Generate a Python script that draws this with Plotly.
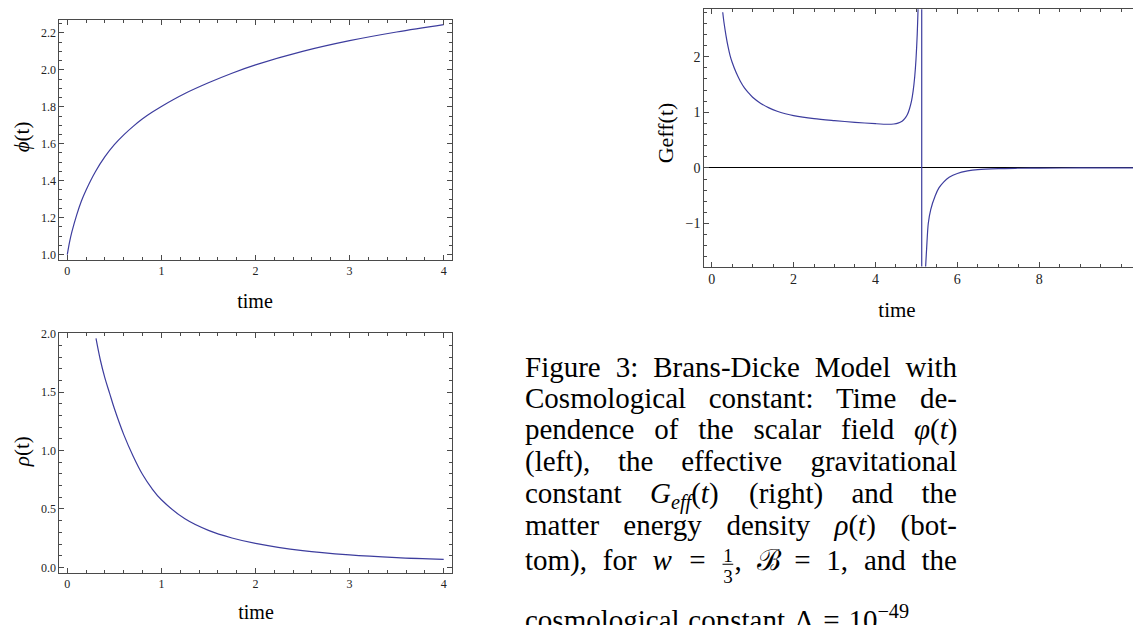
import re
import plotly.graph_objects as go

# ---------------- data ----------------
phi_t = [0.0, 0.025, 0.05, 0.1, 0.15, 0.2, 0.3, 0.4, 0.5, 0.6, 0.7, 0.8, 0.9, 1.0, 1.25, 1.5, 1.75, 2.0, 2.5, 3.0, 3.5, 4.0]
phi_v = [1.0, 1.07, 1.125, 1.215, 1.29, 1.35, 1.45, 1.53, 1.595, 1.648, 1.694, 1.735, 1.770, 1.802, 1.872,
         1.930, 1.982, 2.027, 2.10, 2.158, 2.205, 2.245]

rho_t = [0.305, 0.35, 0.4, 0.45, 0.5, 0.6, 0.7, 0.8, 0.9, 1.0, 1.25, 1.5, 1.75, 2.0, 2.5, 3.0, 3.5, 4.0]
rho_v = [1.96, 1.78, 1.62, 1.49, 1.36, 1.137, 0.952, 0.795, 0.674, 0.579, 0.416, 0.317, 0.252, 0.206,
         0.144, 0.1075, 0.084, 0.068]

geff_t_pos = [0.27, 0.3, 0.35, 0.4, 0.45, 0.5, 0.6, 0.7, 0.8, 0.9, 1.0, 1.2, 1.4, 1.6, 1.8, 2.0, 2.5, 3.0,
              3.5, 4.0, 4.3, 4.45, 4.55, 4.65, 4.72, 4.78, 4.83, 4.88, 4.92, 4.96, 4.99, 5.02, 5.04, 5.06]
geff_v_pos = [2.80, 2.62, 2.38, 2.18, 2.02, 1.90, 1.71, 1.56, 1.44, 1.35, 1.27, 1.16, 1.08, 1.02, 0.975,
              0.94, 0.885, 0.85, 0.82, 0.795, 0.785, 0.79, 0.805, 0.84, 0.89, 0.96, 1.06, 1.2, 1.38,
              1.65, 1.95, 2.4, 2.85, 3.4]
geff_t_pole = [5.13, 5.13]
geff_v_pole = [3.2, -2.0]
geff_t_neg = [5.205, 5.22, 5.25, 5.29, 5.35, 5.46, 5.55, 5.67, 5.8, 6.0, 6.25, 6.5, 7.0, 7.5, 8.0, 9.0, 10.3]
geff_v_neg = [-2.1, -1.85, -1.45, -1.0, -0.75, -0.5, -0.36, -0.25, -0.17, -0.1, -0.055, -0.03, -0.012,
              -0.006, -0.003, -0.001, -0.0004]

phi_xticks = [0, 1, 2, 3, 4]
phi_yticks = [1.0, 1.2, 1.4, 1.6, 1.8, 2.0, 2.2]
rho_xticks = [0, 1, 2, 3, 4]
rho_yticks = [0.0, 0.5, 1.0, 1.5, 2.0]
geff_xticks = [0, 2, 4, 6, 8]
geff_yticks = [-1, 0, 1, 2]

caption_lines = [
    ["Figure", "3:", "Brans-Dicke", "Model", "with"],
    ["Cosmological", "constant:", "Time", "de-"],
    ["pendence", "of", "the", "scalar", "field", "<i>φ</i>(<i>t</i>)"],
    ["(left),", "the", "effective", "gravitational"],
    ["constant", "<i>G<sub>eff</sub></i>(<i>t</i>)", "(right)", "and", "the"],
    ["matter", "energy", "density", "<i>ρ</i>(<i>t</i>)", "(bot-"],
    ["tom),", "for", "<i>w</i>", "=", "{FRAC}", "ℬ", "=", "1,", "and", "the"],
    ["cosmological", "constant", "Λ", "=", "10<sup>−49</sup>."],
]
frac_num, frac_den = "1", "3"

# ---------------- layout helpers ----------------
W, H = 1133, 625
LINE = "#4a4a4a"
CURVE = "#3d3d9e"
SERIF = "Liberation Serif"


def dx(a, b):
    return [a / W, b / W]


def dy(top, bottom):
    return [1 - bottom / H, 1 - top / H]


fig = go.Figure()

fig.add_trace(go.Scatter(x=phi_t, y=phi_v, mode="lines", line=dict(color=CURVE, width=1.2, shape="spline"),
                         xaxis="x", yaxis="y", showlegend=False, hoverinfo="skip"))
fig.add_trace(go.Scatter(x=geff_t_pos, y=geff_v_pos, mode="lines", line=dict(color=CURVE, width=1.2, shape="spline", smoothing=0.8),
                         xaxis="x2", yaxis="y2", showlegend=False, hoverinfo="skip"))
fig.add_trace(go.Scatter(x=geff_t_pole, y=geff_v_pole, mode="lines", line=dict(color=CURVE, width=1.2),
                         xaxis="x2", yaxis="y2", showlegend=False, hoverinfo="skip"))
fig.add_trace(go.Scatter(x=geff_t_neg, y=geff_v_neg, mode="lines", line=dict(color=CURVE, width=1.2, shape="spline", smoothing=0.8),
                         xaxis="x2", yaxis="y2", showlegend=False, hoverinfo="skip"))
fig.add_trace(go.Scatter(x=rho_t, y=rho_v, mode="lines", line=dict(color=CURVE, width=1.2, shape="spline"),
                         xaxis="x3", yaxis="y3", showlegend=False, hoverinfo="skip"))


def axis(domain, rng, tickvals, minor_dtick, fmt, size, mirror=True, anchor=None, zeroline=False):
    d = dict(domain=domain, range=rng, tickvals=tickvals, tickformat=fmt, ticks="inside", ticklen=5,
             tickwidth=1, tickcolor=LINE, showline=True, linecolor=LINE, linewidth=1,
             mirror="allticks" if mirror else False, showgrid=False, zeroline=zeroline,
             tickfont=dict(family=SERIF, size=size, color="#222"), fixedrange=True,
             minor=dict(dtick=minor_dtick, tick0=0, ticks="inside", ticklen=3, tickwidth=1,
                        tickcolor=LINE, showgrid=False))
    if anchor:
        d["anchor"] = anchor
    return d


# text overlay (pixel coordinates)
cx, cy, ctext, csize = [], [], [], []      # left-anchored
mx, my, mtext, msize = [], [], [], []      # centered
shapes = []

FS = 29
TW = {' ': 250, '(': 333, ')': 333, ',': 250, '-': 333, '.': 250, ':': 278, '=': 564, '−': 564,
      'A': 722, 'B': 667, 'C': 667, 'D': 722, 'E': 611, 'F': 556, 'G': 722, 'M': 889, 'T': 611,
      'a': 444, 'b': 500, 'c': 444, 'd': 500, 'e': 444, 'f': 333, 'g': 500, 'h': 500, 'i': 278,
      'j': 278, 'k': 500, 'l': 278, 'm': 778, 'n': 500, 'o': 500, 'p': 500, 'q': 500, 'r': 333,
      's': 389, 't': 278, 'u': 500, 'v': 500, 'w': 722, 'x': 500, 'y': 500, 'z': 444,
      'φ': 540, 'ρ': 500, 'Λ': 722, 'ℬ': 720}
for ch in "0123456789":
    TW[ch] = 500
FRAC_W = 0.45


def width(tok):
    if tok == "{FRAC}":
        return (FRAC_W + TW[','] / 1000) * FS
    scale, w = 1.0, 0.0
    for part in re.split(r"(<[^>]+>)", tok):
        if part.startswith("<"):
            if part in ("<sub>", "<sup>"):
                scale = 0.7
            elif part in ("</sub>", "</sup>"):
                scale = 1.0
            continue
        for ch in part:
            w += TW.get(ch, 500) / 1000 * scale
    return w * FS


LEFT, RIGHT = 525, 957
baselines = [376, 407.5, 439, 470.5, 503, 536, 571, 632]


def put_left(x, base, text, size):
    cx.append(x); cy.append(base - 0.25 * size); ctext.append(text); csize.append(size)


def put_mid(x, base, text, size):
    mx.append(x); my.append(base - 0.25 * size); mtext.append(text); msize.append(size)


for li, toks in enumerate(caption_lines):
    ws = [width(t) for t in toks]
    last = li == len(caption_lines) - 1
    if last:
        gap = 0.3 * FS
    else:
        gap = (RIGHT - LEFT - sum(ws)) / (len(toks) - 1)
    x = LEFT
    b = baselines[li]
    for t, w in zip(toks, ws):
        if t == "{FRAC}":
            fw = FRAC_W * FS
            c = x + fw / 2
            put_mid(c, b - 0.27 * FS, frac_num, 19)
            put_mid(c, b + 0.46 * FS, frac_den, 19)
            shapes.append(dict(type="line", xref="x4", yref="y4", x0=x + 0.04 * FS, x1=x + fw - 0.04 * FS,
                               y0=b - 0.19 * FS, y1=b - 0.19 * FS, line=dict(color="black", width=1)))
            put_left(x + fw, b, ",", FS)
        else:
            put_left(x, b, t, FS)
        x += w + gap

# "time" axis labels (centered)
put_mid(255, 306, "time", 20)
put_mid(256, 620.5, "time", 20)
put_mid(897, 315, "time", 21)

fig.add_trace(go.Scatter(x=cx, y=cy, text=ctext, mode="text", textposition="middle right",
                         textfont=dict(family=SERIF, size=csize, color="black"),
                         xaxis="x4", yaxis="y4", cliponaxis=False, showlegend=False, hoverinfo="skip"))
fig.add_trace(go.Scatter(x=mx, y=my, text=mtext, mode="text", textposition="middle center",
                         textfont=dict(family=SERIF, size=msize, color="black"),
                         xaxis="x4", yaxis="y4", cliponaxis=False, showlegend=False, hoverinfo="skip"))

annotations = [
    dict(x=22, y=133, xref="x4", yref="y4", text="<i>ϕ</i>(t)", textangle=-90, showarrow=False,
         xanchor="center", yanchor="middle", font=dict(family=SERIF, size=21, color="black")),
    dict(x=22, y=452, xref="x4", yref="y4", text="<i>ρ</i>(t)", textangle=-90, showarrow=False,
         xanchor="center", yanchor="middle", font=dict(family=SERIF, size=21, color="black")),
    dict(x=665, y=129, xref="x4", yref="y4", text="Geff(t)", textangle=-90, showarrow=False,
         xanchor="center", yanchor="middle", font=dict(family=SERIF, size=22, color="black")),
]

fig.update_layout(
    width=W, height=H, margin=dict(l=0, r=0, t=0, b=0),
    paper_bgcolor="white", plot_bgcolor="rgba(0,0,0,0)", showlegend=False,
    xaxis=axis(dx(59.3, 451.7), [-0.085, 4.085], phi_xticks, 0.2, "d", 12, anchor="y"),
    yaxis=axis(dy(14.3, 257), [0.972, 2.2695], phi_yticks, 0.05, ".1f", 12, anchor="x"),
    xaxis2=axis(dx(704.3, 1133), [-0.18, 10.29], geff_xticks, 0.5, "d", 14, anchor="y2"),
    yaxis2=axis(dy(3.3, 264), [-1.776, 2.854], geff_yticks, 0.2, "d", 14, mirror=False, anchor="x2", zeroline=True),
    xaxis3=axis(dx(59.3, 451.7), [-0.085, 4.085], rho_xticks, 0.2, "d", 12, anchor="y3"),
    yaxis3=axis(dy(331.7, 574), [-0.045, 2.003], rho_yticks, 0.1, ".1f", 12, anchor="x3"),
    xaxis4=dict(domain=[0, 1], range=[0, W], visible=False, fixedrange=True, anchor="y4"),
    yaxis4=dict(domain=[0, 1], range=[H, 0], visible=False, fixedrange=True, anchor="x4"),
    annotations=annotations, shapes=shapes,
)
fig.layout.yaxis2.zerolinecolor = "black"
fig.layout.yaxis2.zerolinewidth = 1

fig.write_html("out.html", config={"displayModeBar": False, "staticPlot": True},
               post_script="document.body.style.margin='0px';document.body.style.overflow='hidden';")
